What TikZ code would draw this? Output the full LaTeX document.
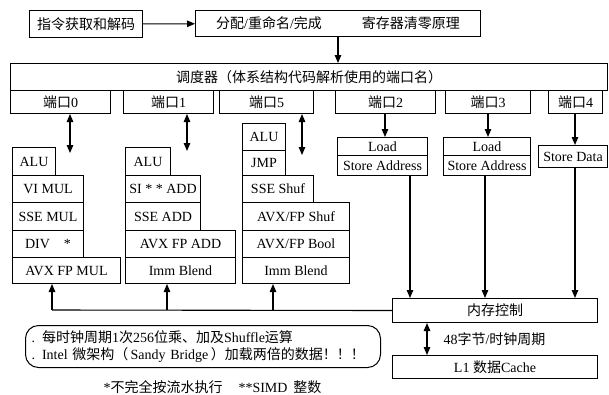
\documentclass[tikz,border=0pt]{standalone}
\usepackage{fontspec}
\setmainfont{Liberation Serif}
\newfontfamily\cjk{Noto Sans CJK SC}
\usetikzlibrary{arrows.meta,calc}
\tikzset{
 txt/.style={font=\fontsize{14}{17}\selectfont},
 box/.style={draw, line width=1pt, inner sep=0pt, anchor=north west, txt},
 arr/.style={line width=1.1pt, -{Triangle[length=8pt,width=6.5pt]}},
 darr/.style={line width=1.1pt, {Triangle[length=8pt,width=6.5pt]}-{Triangle[length=8pt,width=6.5pt]}},
}
\newcommand\mybox[6]{\node[box, minimum width=#4pt, minimum height=#5pt] (#1) at (#2,#3) {#6};}
\begin{document}
\begin{tikzpicture}[x=1pt,y=-1pt]
\useasboundingbox (0,0) rectangle (609,394);
% top row
\mybox{fetch}{29}{10}{113}{27}{\cjk 指令获取和解码}
\mybox{alloc}{195}{10}{285}{26}{{\cjk 分配}/{\cjk 重命名}/{\cjk 完成}\hspace{40pt}{\cjk 寄存器清零原理}}
% scheduler
\mybox{sched}{10}{63}{597}{27}{\cjk 调度器（体系结构代码解析使用的端口名）}
% ports
\mybox{p0}{10}{90}{100}{23}{{\cjk 端口}0}
\mybox{p1}{123}{90}{90}{23}{{\cjk 端口}1}
\mybox{p5}{219}{90}{94}{23}{{\cjk 端口}5}
\mybox{p2}{335}{90}{100}{23}{{\cjk 端口}2}
\mybox{p3}{445}{90}{85}{23}{{\cjk 端口}3}
\mybox{p4}{548}{90}{54}{23}{{\cjk 端口}4}
% port 0 stack
\mybox{a0}{12}{147}{43}{28}{ALU}
\mybox{b0}{12}{175}{71}{27}{VI MUL}
\mybox{c0}{12}{202}{71}{28}{SSE MUL}
\mybox{d0}{12}{230}{71}{27}{DIV\quad *}
\mybox{e0}{12}{257}{108}{26}{AVX FP MUL}
% port 1 stack
\mybox{a1}{125}{147}{45}{28}{ALU}
\mybox{b1}{125}{175}{75}{27}{SI * * ADD}
\mybox{c1}{125}{202}{75}{28}{SSE ADD}
\mybox{d1}{125}{230}{110}{27}{AVX FP ADD}
\mybox{e1}{125}{257}{110}{26}{Imm Blend}
% port 5 stack
\mybox{a5}{242}{123}{43}{27}{ALU}
\mybox{b5}{242}{150}{43}{25}{JMP}
\mybox{c5}{242}{175}{71}{27}{SSE Shuf}
\mybox{d5}{242}{202}{107}{28}{AVX/FP Shuf}
\mybox{e5}{242}{230}{107}{27}{AVX/FP Bool}
\mybox{f5}{242}{257}{107}{26}{Imm Blend}
% ports 2,3,4
\mybox{l2}{337}{137}{90}{18}{Load}
\mybox{s2}{337}{155}{90}{20}{Store Address}
\mybox{l3}{443}{137}{87}{18}{Load}
\mybox{s3}{443}{155}{87}{20}{Store Address}
\mybox{sd}{538}{145}{69}{22}{Store Data}
% memory
\mybox{mem}{392}{298}{205}{24}{\cjk 内存控制}
\mybox{l1}{392}{355}{205}{23}{L1 {\cjk 数据}Cache}
\node[txt, anchor=west] (bw) at (440,339) {48{\cjk 字节}/{\cjk 时钟周期}};
% note
\node[draw, line width=1pt, rounded corners=13pt, anchor=north west, minimum width=355pt, minimum height=42pt, inner xsep=6pt, inner ysep=3pt, align=left, text width=343pt, txt] (note) at (25,325)
 {\mbox{. {\cjk 每时钟周期}1{\cjk 次}256{\cjk 位乘、加及}Shuffle{\cjk 运算}}\\
  \mbox{. Intel {\cjk 微架构（}\,Sandy Bridge\,{\cjk ）加载两倍的数据！！！}}};
\node[txt, anchor=west] (fn) at (100,387) {*{\cjk 不完全按流水执行}\hspace{16pt}**SIMD\, {\cjk 整数}};
% connectors
\draw[arr] (fetch) -- (alloc);
\draw[arr] (alloc.south -| 338,0) -- (sched.north -| 338,0);
\coordinate (q0) at (70,153);
\coordinate (q1) at (187,151);
\coordinate (q5) at (302,155);
\draw[darr] (p0.south -| q0) -- (q0);
\draw[darr] (p1.south -| q1) -- (q1);
\draw[darr] (p5.south -| q5) -- (q5);
\draw[arr] (p2.south -| 385,0) -- (l2.north -| 385,0);
\draw[arr] (p3.south -| 488,0) -- (l3.north -| 488,0);
\draw[arr] (p4.south -| 575,0) -- (sd.north -| 575,0);
\draw[arr] (s2.south -| 410,0) -- (mem.north -| 410,0);
\draw[arr] (s3.south -| 485,0) -- (mem.north -| 485,0);
\draw[arr] (sd.south -| 575,0) -- (mem.north -| 575,0);
\coordinate (r0) at (52,310);
\draw[line width=1.1pt] (mem.west) -- (r0);
\draw[arr] (r0) -- (e0.south -| r0);
\draw[arr] (r0 -| 167,0) -- (e1.south -| 167,0);
\draw[arr] (r0 -| 273,0) -- (f5.south -| 273,0);
\draw[darr] (mem.south -| 427,0) -- (l1.north -| 427,0);
\end{tikzpicture}
\end{document}
